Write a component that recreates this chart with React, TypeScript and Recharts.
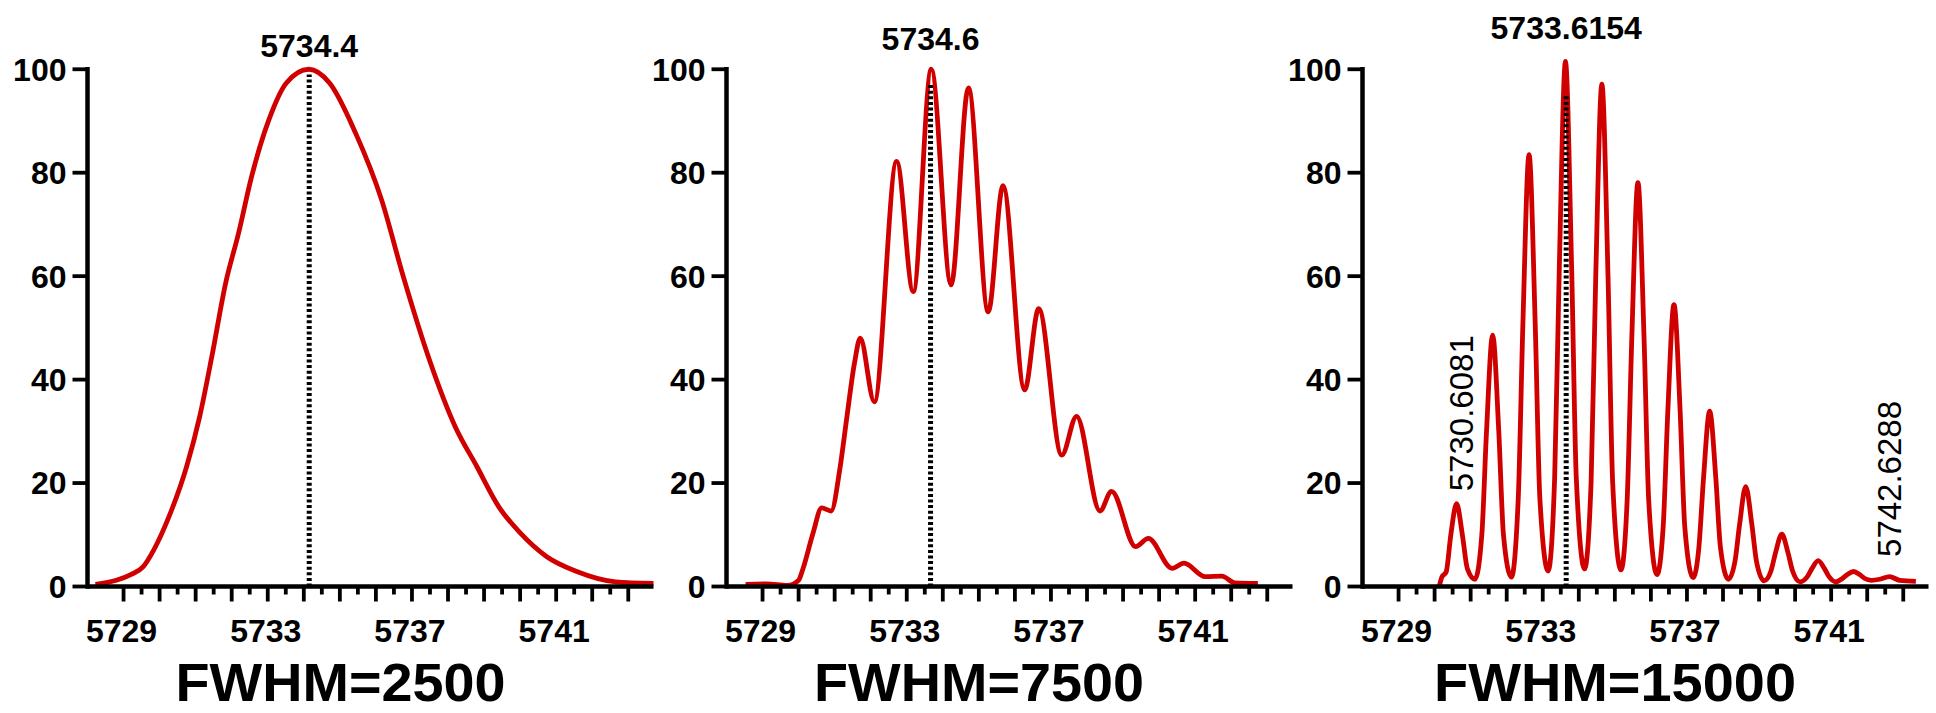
import React from "react";
import { LineChart, Line, XAxis, YAxis, ReferenceLine, ReferenceDot } from "recharts";

const FONT = '"Liberation Sans", Arial, Helvetica, sans-serif';
const RED = "#d00000";

// axis ticks
const Y_TICKS = [0, 20, 40, 60, 80, 100];
const MAJOR_TICKS = [5729, 5730, 5731, 5732, 5733, 5734, 5735, 5736, 5737, 5738, 5739, 5740, 5741, 5742, 5743];
const MINOR_TICKS = [5729.5, 5730.5, 5731.5, 5732.5, 5733.5, 5734.5, 5735.5, 5736.5, 5737.5, 5738.5, 5739.5, 5740.5, 5741.5, 5742.5];
const LABELED_TICKS = [5729, 5733, 5737, 5741];
const X_TICKS = [...MAJOR_TICKS, ...MINOR_TICKS].sort((a, b) => a - b);
const X_DOMAIN: [number, number] = [5728, 5743.7];

// FWHM = 2500
const P1_MZ = [5728.22, 5728.8, 5729.2, 5729.54, 5729.84, 5730.26, 5730.75, 5731.11, 5731.45, 5731.83, 5732.19, 5732.55, 5733.03, 5733.51, 5734.14, 5734.72, 5735.44, 5736.16, 5736.76, 5737.5, 5738.2, 5738.8, 5739.41, 5740.01, 5740.73, 5741.57, 5742.65, 5743.7];
const P1_INT = [0.4, 1.2, 2.3, 3.8, 7.1, 13.5, 23.2, 32.8, 44.5, 58.6, 68.3, 79.2, 90.2, 97.3, 100, 97.3, 87.6, 74.7, 59.9, 43.5, 30.9, 23.2, 15.4, 10.3, 5.8, 2.9, 0.9, 0.6];

// FWHM = 7500
const P2_MZ = [5728.53, 5729.1, 5729.7, 5730.0, 5730.11, 5730.4, 5730.64, 5730.9, 5731.15, 5731.34, 5731.55, 5731.71, 5732.1, 5732.72, 5733.18, 5733.68, 5734.23, 5734.71, 5735.26, 5735.67, 5736.27, 5736.66, 5737.3, 5737.71, 5738.36, 5738.68, 5739.35, 5739.7, 5740.36, 5740.69, 5741.28, 5741.74, 5742.1, 5742.74];
const P2_INT = [0.4, 0.5, 0.2, 1.2, 3.2, 10.3, 15.2, 14.6, 23, 32.8, 43.2, 48, 35.7, 82.2, 57, 100, 58.3, 96.4, 53.1, 77.5, 38, 53.7, 25.4, 32.9, 14.6, 18.4, 7.7, 9.3, 3.5, 4.5, 1.9, 2.0, 0.7, 0.6];

// FWHM = 15000
const P3_MZ = [
  5730.13, 5730.2, 5730.32, 5730.45, 5730.61, 5730.77, 5730.91,
  5731.12, 5731.31, 5731.44, 5731.61, 5731.78, 5731.91,
  5732.13, 5732.32, 5732.45, 5732.62, 5732.79, 5732.92,
  5733.15, 5733.33, 5733.46, 5733.63, 5733.8, 5733.93,
  5734.16, 5734.34, 5734.47, 5734.64, 5734.81, 5734.94,
  5735.17, 5735.34, 5735.47, 5735.64, 5735.81, 5735.94,
  5736.17, 5736.34, 5736.47, 5736.64, 5736.81, 5736.94,
  5737.17, 5737.33, 5737.46, 5737.63, 5737.8, 5737.93,
  5738.15, 5738.33, 5738.46, 5738.63, 5738.8, 5738.93,
  5739.14, 5739.33, 5739.46, 5739.63, 5739.8, 5739.93,
  5740.14, 5740.34, 5740.47, 5740.64, 5740.81, 5740.94,
  5741.13, 5741.32, 5741.45, 5741.62, 5741.79, 5741.92,
  5742.12, 5742.35, 5742.62, 5742.9, 5743.35,
];
const P3_INT = [
  0, 1.8, 2.8, 10, 16, 10, 3.4,
  1.4, 10, 30, 48.6, 30, 10,
  1.8, 17, 51, 83.5, 51, 17,
  3.0, 21, 62, 101.5, 62, 21,
  3.4, 20, 60, 97.1, 60, 20,
  3.2, 16.5, 48, 78.1, 48, 16.5,
  2.3, 11.5, 34, 54.5, 34, 11.5,
  1.7, 7.5, 21, 33.9, 21, 7.5,
  1.4, 4.8, 12, 19.3, 12, 4.8,
  1.1, 3, 6.6, 10.1, 6.6, 3,
  0.9, 1.9, 3.5, 5.0, 3.5, 1.9,
  0.9, 1.6, 2.3, 2.9, 2.3, 1.6,
  1.2, 1.4, 1.9, 1.2, 1.0,
];

const TITLES = ["FWHM=2500", "FWHM=7500", "FWHM=15000"];
const TITLE_WIDTHS = [330, 330, 362];
const PEAK_MZ = [5734.15, 5733.66, 5733.65];
const PEAK_TOP = [99, 97, 95];
const PEAK_LABELS = ["5734.4", "5734.6", "5733.6154"];

// rotated annotations on the last panel
const ANNOT_MZ = [5730.61, 5742.62];
const ANNOT_INT = [16, 1.9];
const ANNOT_TEXT = ["5730.6081", "5742.6288"];

const toRows = (mz: number[], inten: number[]) => mz.map((x, i) => ({ x, y: inten[i] }));

const PANELS = [
  { data: toRows(P1_MZ, P1_INT), plotLeft: 87.5, labelOffset: 17.5, annotations: false },
  { data: toRows(P2_MZ, P2_INT), plotLeft: 726, labelOffset: 34.8, annotations: false },
  { data: toRows(P3_MZ, P3_INT), plotLeft: 1362, labelOffset: 56.2, annotations: true },
];

const XTick = (props: any) => {
  const { x, y, payload } = props;
  const v = payload.value;
  const major = MAJOR_TICKS.includes(v);
  return (
    <g>
      <line x1={x} x2={x} y1={y} y2={y + (major ? 15 : 8)} stroke="#000" strokeWidth={3.8} />
      {LABELED_TICKS.includes(v) && (
        <text x={x - 2} y={y + 55} textAnchor="middle" fontSize={32} fontWeight="bold" fontFamily={FONT} fill="#000">
          {v}
        </text>
      )}
    </g>
  );
};

const RotLabel = (props: any) => {
  const { viewBox, text, dx, gap } = props;
  const x = viewBox.x + (viewBox.width || 0) / 2 + dx;
  const y = viewBox.y - gap;
  return (
    <text x={x} y={y} transform={`rotate(-90 ${x} ${y})`} textAnchor="start" fontSize={33} fontFamily={FONT} fill="#000">
      {text}
    </text>
  );
};

function Spectrum({ idx }: { idx: number }) {
  const p = PANELS[idx];
  return (
    <LineChart width={660} height={713} data={p.data} margin={{ top: 43.4, right: 6.5, bottom: 0, left: 0 }}>
      <XAxis
        type="number"
        dataKey="x"
        domain={X_DOMAIN}
        ticks={X_TICKS}
        interval={0}
        height={126.5}
        axisLine={{ stroke: "#000", strokeWidth: 4.5 }}
        tickLine={false}
        tickSize={0}
        tickMargin={0}
        tick={<XTick />}
      />
      <YAxis
        type="number"
        domain={[0, 105]}
        ticks={Y_TICKS}
        interval={0}
        width={87.5}
        axisLine={false}
        tickSize={15}
        tickMargin={6}
        tickLine={{ stroke: "#000", strokeWidth: 3.8 }}
        tick={{ fill: "#000", fontSize: 32, fontWeight: "bold", fontFamily: FONT }}
      />
      <ReferenceLine
        segment={[{ x: 5728, y: 0 }, { x: 5728, y: 100 }]}
        stroke="#000"
        strokeWidth={4.5}
        strokeLinecap="square"
      />
      <Line type="monotone" dataKey="y" stroke={RED} strokeWidth={4.8} dot={false} activeDot={false} isAnimationActive={false} />
      <ReferenceLine
        segment={[{ x: PEAK_MZ[idx], y: 0 }, { x: PEAK_MZ[idx], y: PEAK_TOP[idx] }]}
        stroke="#000"
        strokeWidth={5}
        strokeDasharray="3 2.6"
        label={{
          value: PEAK_LABELS[idx],
          position: "top",
          offset: p.labelOffset,
          fill: "#000",
          fontSize: 32,
          fontWeight: "bold",
          fontFamily: FONT,
        }}
      />
      {p.annotations &&
        ANNOT_MZ.map((mz, i) => (
          <ReferenceDot
            key={mz}
            x={mz}
            y={ANNOT_INT[i]}
            r={0}
            fill="none"
            stroke="none"
            label={<RotLabel text={ANNOT_TEXT[i]} dx={i === 0 ? 16 : 11} gap={i === 0 ? 12.5 : 19.7} />}
          />
        ))}
    </LineChart>
  );
}

export default function App() {
  return (
    <div style={{ position: "absolute", left: 0, top: 0, width: 1936, height: 713, background: "#fff", overflow: "hidden" }}>
      {PANELS.map((p, i) => (
        <div key={i} style={{ position: "absolute", left: p.plotLeft - 87.5, top: 0 }}>
          <Spectrum idx={i} />
        </div>
      ))}
      <svg width={1936} height={713} style={{ position: "absolute", left: 0, top: 0, pointerEvents: "none" }}>
        {PANELS.map((p, i) => (
          <text
            key={i}
            x={p.plotLeft + 253}
            y={701}
            textAnchor="middle"
            fontSize={54}
            fontWeight="bold"
            fontFamily={FONT}
            fill="#000"
            textLength={TITLE_WIDTHS[i]}
            lengthAdjust="spacingAndGlyphs"
          >
            {TITLES[i]}
          </text>
        ))}
      </svg>
    </div>
  );
}
